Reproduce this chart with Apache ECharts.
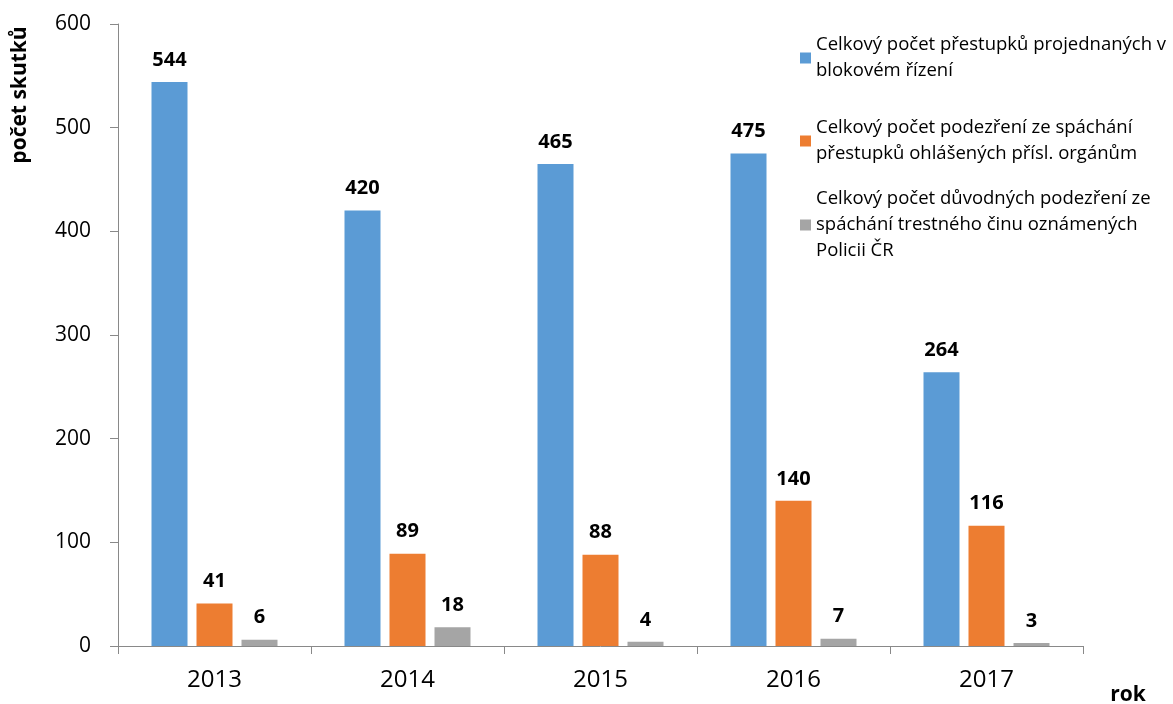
<!DOCTYPE html>
<html>
<head>
<meta charset="utf-8">
<script src="https://cdn.jsdelivr.net/npm/echarts@6/dist/echarts.min.js"></script>
<style>
  html, body { margin: 0; padding: 0; background: #fff; }
  #chart { width: 1173px; height: 704px; }
</style>
</head>
<body>
<div id="chart"></div>
<script>
const years = ["2013", "2014", "2015", "2016", "2017"];
const seriesNames = [
  "Celkový počet přestupků projednaných v\nblokovém řízení",
  "Celkový počet podezření ze spáchání\npřestupků ohlášených přísl. orgánům",
  "Celkový počet důvodných podezření ze\nspáchání trestného činu oznámených\nPolicii ČR",
];
const blokove = [544, 420, 465, 475, 264];
const prestupky = [41, 89, 88, 140, 116];
const trestne = [6, 18, 4, 7, 3];
const yTicks = [0, 100, 200, 300, 400, 500, 600];

const colors = ["#5B9BD5", "#ED7D31", "#A5A5A5"];
const font = "Open Sans";
const lineH = 26;

const chart = echarts.init(document.getElementById("chart"));

// one legend per item, so the marker sits on the first text line
const legendIconY = [58, 141, 225];
const legends = seriesNames.map((name, i) => {
  const n = name.split("\n").length;
  return {
    data: [name],
    left: 800,
    top: legendIconY[i] - (2 * n - 1) * lineH / 2,
    padding: 0,
    orient: "vertical",
    icon: "rect",
    itemWidth: 11,
    itemHeight: 11,
    itemGap: 0,
    selectedMode: false,
    textStyle: {
      fontFamily: font,
      fontSize: 18.5,
      color: "#000",
      lineHeight: lineH,
      padding: [(n - 1) * lineH, 0, 0, 0],
    },
  };
});

const labelStyle = {
  show: true,
  position: "top",
  distance: 12,
  fontFamily: font,
  fontSize: 20,
  fontWeight: "bold",
  color: "#000",
};

const option = {
  animation: false,
  legend: legends,
  grid: { left: 118, right: 90, top: 24, bottom: 58 },
  xAxis: {
    type: "category",
    data: years,
    axisLine: { lineStyle: { color: "#898989", width: 1 } },
    axisTick: { show: true, length: 8, lineStyle: { color: "#898989" } },
    axisLabel: { fontFamily: font, fontSize: 24, color: "#000", margin: 22 },
  },
  yAxis: {
    type: "value",
    min: yTicks[0],
    max: yTicks[yTicks.length - 1],
    interval: 100,
    axisLine: { show: true, lineStyle: { color: "#898989", width: 1 } },
    axisTick: { show: true, length: 8, lineStyle: { color: "#898989" } },
    splitLine: { show: false },
    axisLabel: { fontFamily: font, fontSize: 21, color: "#000", margin: 27 },
  },
  graphic: [
    {
      type: "text",
      x: 20,
      y: 95,
      rotation: Math.PI / 2,
      style: {
        text: "počet skutků",
        fontFamily: font,
        fontSize: 21,
        fontWeight: "bold",
        fill: "#000",
        align: "center",
        verticalAlign: "middle",
      },
    },
    {
      type: "text",
      x: 1128,
      y: 695,
      style: {
        text: "rok",
        fontFamily: font,
        fontSize: 21,
        fontWeight: "bold",
        fill: "#000",
        align: "center",
        verticalAlign: "middle",
      },
    },
  ],
  series: [blokove, prestupky, trestne].map((data, i) => ({
    name: seriesNames[i],
    type: "bar",
    data: data,
    barWidth: 36,
    barGap: "25%",
    itemStyle: { color: colors[i] },
    label: labelStyle,
  })),
};

chart.setOption(option);
</script>
</body>
</html>
